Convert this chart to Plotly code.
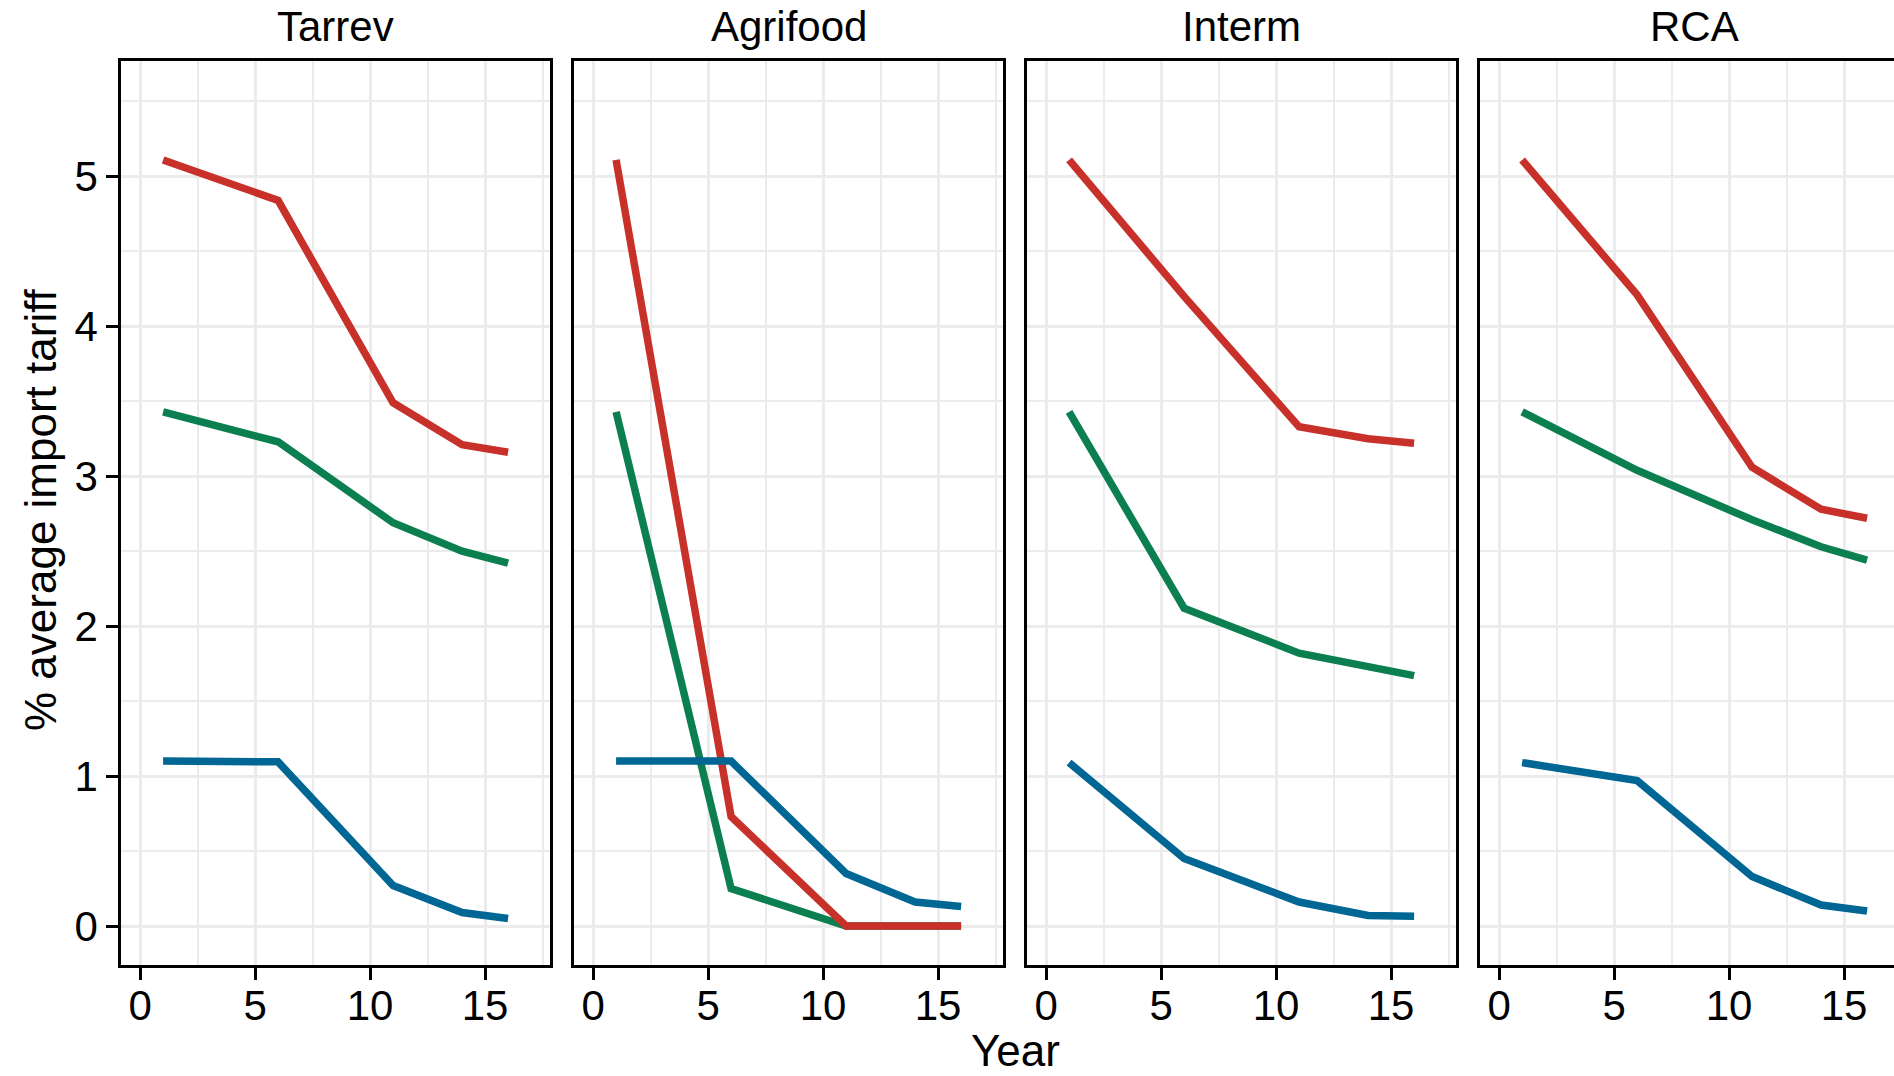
import plotly.graph_objects as go

W, H = 1894, 1076

panels = ["Tarrev", "Agrifood", "Interm", "RCA"]
years = [1, 6, 11, 14, 16]

red_vals = {
    "Tarrev":   [5.11, 4.84, 3.49, 3.21, 3.16],
    "Agrifood": [5.11, 0.73, 0.00, 0.00, 0.00],
    "Interm":   [5.11, 4.20, 3.33, 3.25, 3.22],
    "RCA":      [5.11, 4.21, 3.06, 2.78, 2.72],
}
green_vals = {
    "Tarrev":   [3.43, 3.23, 2.69, 2.50, 2.42],
    "Agrifood": [3.43, 0.25, 0.00, 0.00, 0.00],
    "Interm":   [3.43, 2.12, 1.82, 1.73, 1.67],
    "RCA":      [3.43, 3.04, 2.71, 2.53, 2.44],
}
blue_vals = {
    "Tarrev":   [1.10, 1.095, 0.27, 0.09, 0.05],
    "Agrifood": [1.10, 1.10, 0.35, 0.16, 0.13],
    "Interm":   [1.09, 0.45, 0.16, 0.07, 0.065],
    "RCA":      [1.09, 0.97, 0.33, 0.14, 0.10],
}
series_colors = {"green": "#0B7F50", "red": "#C8302A", "blue": "#006694"}

x_ticks = [0, 5, 10, 15]
y_ticks = [0, 1, 2, 3, 4, 5]
x_label = "Year"
y_label = "% average import tariff"

# layout geometry (pixels)
panel_lefts = [121, 574, 1027, 1480]
panel_w = 429
top_px, bot_px = 61, 965
x_per_px = 23.0
x0 = -0.83
y_range = [-0.26, 5.77]

FONT = "Arial, Liberation Sans, sans-serif"
fig = go.Figure()

for i, p in enumerate(panels):
    n = "" if i == 0 else str(i + 1)
    left = panel_lefts[i]
    right = min(left + panel_w, W)
    x1 = x0 + (right - left) / x_per_px
    for name, vals in [("green", green_vals), ("red", red_vals), ("blue", blue_vals)]:
        fig.add_trace(go.Scatter(
            x=years, y=vals[p], mode="lines",
            line=dict(color=series_colors[name], width=7.5),
            xaxis="x" + n, yaxis="y" + n, showlegend=False, hoverinfo="skip"))
    fig.layout["xaxis" + n] = dict(
        domain=[left / W, right / W], range=[x0, x1], anchor="y" + n,
        tickvals=x_ticks, ticks="outside", ticklen=12, tickwidth=3, tickcolor="black",
        tickfont=dict(size=42, color="black", family=FONT),
        ticklabelstandoff=-10,
        showline=True, linecolor="black", linewidth=2.5, mirror=True,
        showgrid=True, gridcolor="#EBEBEB", gridwidth=3,
        minor=dict(dtick=5, tick0=2.5, showgrid=True, gridcolor="#EBEBEB", gridwidth=1.8, ticks=""),
        zeroline=False, fixedrange=True)
    fig.layout["yaxis" + n] = dict(
        domain=[1 - bot_px / H, 1 - top_px / H], range=y_range, anchor="x" + n,
        tickvals=y_ticks,
        ticks="outside" if i == 0 else "", ticklen=12, tickwidth=3, tickcolor="black",
        showticklabels=(i == 0),
        tickfont=dict(size=42, color="black", family=FONT),
        showline=True, linecolor="black", linewidth=2.5, mirror=(i < 3),
        showgrid=True, gridcolor="#EBEBEB", gridwidth=3,
        minor=dict(dtick=1, tick0=0.5, showgrid=True, gridcolor="#EBEBEB", gridwidth=1.8, ticks=""),
        zeroline=False, fixedrange=True)
    fig.add_annotation(
        text=p, xref="paper", yref="paper",
        x=(left + panel_w / 2) / W, y=1 - 27 / H,
        xanchor="center", yanchor="middle", showarrow=False,
        font=dict(size=42, color="black", family=FONT))

fig.add_annotation(text=x_label, xref="paper", yref="paper",
                   x=1015 / W, y=1 - 1050 / H, xanchor="center", yanchor="middle",
                   showarrow=False, font=dict(size=44, color="black", family=FONT))
fig.add_annotation(text=y_label, xref="paper", yref="paper",
                   x=40 / W, y=1 - 510 / H, xanchor="center", yanchor="middle",
                   textangle=-90, showarrow=False,
                   font=dict(size=44, color="black", family=FONT))

fig.update_layout(width=W, height=H, margin=dict(l=0, r=0, t=0, b=0),
                  paper_bgcolor="white", plot_bgcolor="white")

fig.write_html("out.html")
